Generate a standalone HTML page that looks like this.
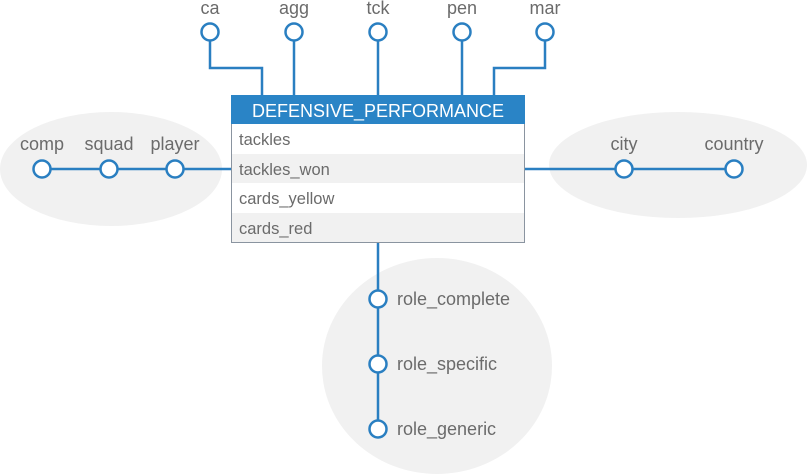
<!DOCTYPE html>
<html><head><meta charset="utf-8"><style>
html,body{margin:0;padding:0;background:#fff;width:807px;height:474px;overflow:hidden}
text{font-family:"Liberation Sans",sans-serif}
</style></head><body>
<svg width="807" height="474" xmlns="http://www.w3.org/2000/svg">
<ellipse cx="111" cy="169" rx="111" ry="57" fill="#f1f1f1"/>
<ellipse cx="678" cy="165" rx="129" ry="53" fill="#f1f1f1"/>
<ellipse cx="437" cy="366" rx="115" ry="108" fill="#f1f1f1"/>
<g stroke="#2a7fc1" stroke-width="2.5" fill="none">
<polyline points="210,40 210,68 262,68 262,95"/>
<line x1="294" y1="40" x2="294" y2="95"/>
<line x1="378" y1="40" x2="378" y2="95"/>
<line x1="462" y1="40" x2="462" y2="95"/>
<polyline points="545,40 545,68 494,68 494,95"/>
<line x1="42" y1="169" x2="231" y2="169"/>
<line x1="524" y1="169" x2="734" y2="169"/>
<line x1="378" y1="242" x2="378" y2="429"/>
</g>
<g stroke="#2a7fc1" stroke-width="2.5" fill="#fff">
<circle cx="210" cy="32" r="8.5"/><circle cx="294" cy="32" r="8.5"/><circle cx="378" cy="32" r="8.5"/><circle cx="462" cy="32" r="8.5"/><circle cx="545" cy="32" r="8.5"/>
<circle cx="42" cy="169" r="8.5"/><circle cx="109" cy="169" r="8.5"/><circle cx="175" cy="169" r="8.5"/>
<circle cx="624" cy="169" r="8.5"/><circle cx="734" cy="169" r="8.5"/>
<circle cx="378" cy="299" r="8.5"/><circle cx="378" cy="364" r="8.5"/><circle cx="378" cy="429" r="8.5"/>
</g>
<g fill="#6b6b6b" font-size="18" text-anchor="middle">
<text x="210" y="14">ca</text><text x="294" y="14">agg</text><text x="378" y="14">tck</text><text x="462" y="14">pen</text><text x="545" y="14">mar</text>
<text x="42" y="150">comp</text><text x="109" y="150">squad</text><text x="175" y="150">player</text>
<text x="624" y="150">city</text><text x="734" y="150">country</text>
</g>
<g fill="#6b6b6b" font-size="18">
<text x="397" y="305">role_complete</text><text x="397" y="370">role_specific</text><text x="397" y="435">role_generic</text>
</g>
<rect x="231.5" y="95.5" width="293" height="147" fill="#fff" stroke="#8a94a0" stroke-width="1"/>
<rect x="231" y="95" width="294" height="29" fill="#2a84c6"/>
<rect x="232" y="154" width="292" height="29" fill="#f1f1f1"/>
<rect x="232" y="213" width="292" height="29" fill="#f1f1f1"/>
<text x="378" y="117" fill="#fff" font-size="18" text-anchor="middle">DEFENSIVE_PERFORMANCE</text>
<g fill="#6b6b6b" font-size="16.5">
<text x="239" y="145">tackles</text><text x="239" y="175">tackles_won</text><text x="239" y="204">cards_yellow</text><text x="239" y="234">cards_red</text>
</g>
</svg>
</body></html>
